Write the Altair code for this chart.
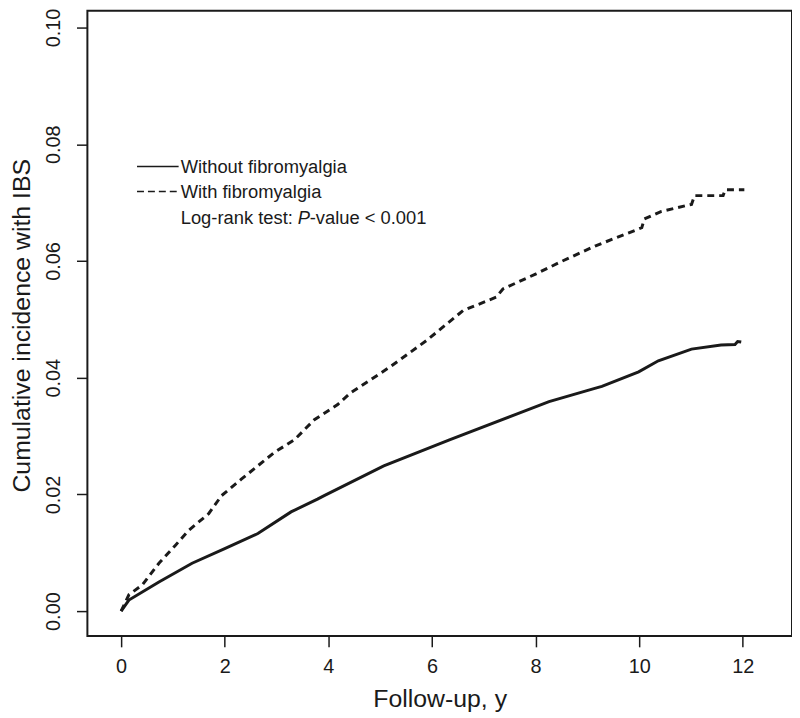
import altair as alt
import pandas as pd

# Without fibromyalgia (solid)
x_without = [0, 0.15, 0.73, 1.37, 2.0, 2.64, 3.28, 3.79, 3.92, 5.07, 6.35, 7.62, 8.26,
             9.16, 9.28, 9.99, 10.37, 11.01, 11.58, 11.85, 11.9, 11.97]
y_without = [0, 0.0019, 0.0050, 0.0082, 0.0107, 0.0133, 0.0170, 0.0192, 0.0198, 0.0249,
             0.0294, 0.0337, 0.0359, 0.0382, 0.0385, 0.0410, 0.0429, 0.0449, 0.0456,
             0.0457, 0.0462, 0.0461]

# With fibromyalgia (dashed)
x_with = [0, 0.15, 0.41, 0.73, 1.05, 1.30, 1.69, 1.94, 2.32, 2.64, 2.96, 3.35, 3.73, 4.18,
          4.43, 5.20, 5.90, 6.60, 7.24, 7.37, 8.01, 8.52, 9.16, 10.05, 10.10, 10.43,
          11.01, 11.07, 11.62, 11.66, 12.03]
y_with = [0, 0.0028, 0.0045, 0.0082, 0.0113, 0.0138, 0.0167, 0.0198, 0.0226, 0.0249,
          0.0272, 0.0294, 0.0328, 0.0354, 0.0374, 0.0419, 0.0464, 0.0515, 0.0538,
          0.0552, 0.0578, 0.0600, 0.0626, 0.0657, 0.0672, 0.0685, 0.0697, 0.0712,
          0.0712, 0.0722, 0.0722]

x_ticks = [0, 2, 4, 6, 8, 10, 12]
y_ticks = [0.00, 0.02, 0.04, 0.06, 0.08, 0.10]

legend_labels = ["Without fibromyalgia", "With fibromyalgia"]
legend_y_line = [0.0762, 0.0719]
legend_y_text = [0.0751, 0.0708]
legend_x_start = 0.307
legend_x_end = 1.11
legend_x_text = 1.15
logrank_y = 0.0663

FONT = "Liberation Sans"
INK = "#1a1a1a"

df_wo = pd.DataFrame({"x": x_without, "y": y_without})
df_w = pd.DataFrame({"x": x_with, "y": y_with})

xs = alt.Scale(domain=[-0.651, 12.95], nice=False, zero=False)
ys = alt.Scale(domain=[-0.00425, 0.10289], nice=False, zero=False)

xaxis = alt.Axis(values=x_ticks, title="Follow-up, y", grid=False, domain=False,
                 tickSize=11, tickWidth=1.5, tickColor=INK, labelFontSize=20,
                 labelFont=FONT, labelColor=INK, labelPadding=10,
                 titleFontSize=25, titleFont=FONT, titleFontWeight="normal",
                 titleColor=INK, titleBaseline="alphabetic", titleY=71)
yaxis = alt.Axis(values=y_ticks, format=".2f", title="Cumulative incidence with IBS",
                 grid=False, domain=False, tickSize=11, tickWidth=1.5, tickColor=INK,
                 labelFontSize=20, labelFont=FONT, labelColor=INK, labelAngle=270,
                 labelAlign="center", labelBaseline="alphabetic", labelPadding=17,
                 titleFontSize=25, titleFont=FONT, titleFontWeight="normal",
                 titleColor=INK, titleAngle=270, titleAlign="center",
                 titleBaseline="alphabetic", titleX=-58, titleY=317)

line_wo = alt.Chart(df_wo).mark_line(color=INK, strokeWidth=3).encode(
    x=alt.X("x:Q", scale=xs, axis=xaxis),
    y=alt.Y("y:Q", scale=ys, axis=yaxis),
    order="x:Q",
)
line_w = alt.Chart(df_w).mark_line(color=INK, strokeWidth=3, strokeDash=[7, 5]).encode(
    x=alt.X("x:Q", scale=xs),
    y=alt.Y("y:Q", scale=ys),
    order="x:Q",
)

leg = pd.DataFrame({
    "label": legend_labels,
    "yl": legend_y_line,
    "yt": legend_y_text,
    "x1": [legend_x_start] * 2,
    "x2": [legend_x_end] * 2,
    "xt": [legend_x_text] * 2,
})

leg_solid = alt.Chart(leg.iloc[[0]]).mark_rule(color=INK, strokeWidth=1.5).encode(
    x=alt.X("x1:Q", scale=xs), x2="x2:Q", y=alt.Y("yl:Q", scale=ys))
leg_dash = alt.Chart(leg.iloc[[1]]).mark_rule(color=INK, strokeWidth=1.5,
                                               strokeDash=[7, 4]).encode(
    x=alt.X("x1:Q", scale=xs), x2="x2:Q", y=alt.Y("yl:Q", scale=ys))
leg_text = alt.Chart(leg).mark_text(align="left", baseline="alphabetic", fontSize=18.5,
                                    font=FONT, color=INK).encode(
    x=alt.X("xt:Q", scale=xs), y=alt.Y("yt:Q", scale=ys), text="label:N")

lr = pd.DataFrame({"x": [legend_x_text], "y": [logrank_y]})
lr1 = alt.Chart(lr).mark_text(align="left", baseline="alphabetic", fontSize=18.5,
                              font=FONT, color=INK, text="Log-rank test:").encode(
    x=alt.X("x:Q", scale=xs), y=alt.Y("y:Q", scale=ys))
lr2 = alt.Chart(lr).mark_text(align="left", baseline="alphabetic", fontSize=18.5,
                              font=FONT, color=INK, fontStyle="italic", text="P",
                              dx=118).encode(
    x=alt.X("x:Q", scale=xs), y=alt.Y("y:Q", scale=ys))
lr3 = alt.Chart(lr).mark_text(align="left", baseline="alphabetic", fontSize=18.5,
                              font=FONT, color=INK, text="-value < 0.001",
                              dx=130).encode(
    x=alt.X("x:Q", scale=xs), y=alt.Y("y:Q", scale=ys))

chart = alt.layer(line_wo, line_w, leg_solid, leg_dash, leg_text, lr1, lr2, lr3).properties(
    width=710, height=630,
    background="white",
    autosize=alt.AutoSizeParams(type="none"),
    padding={"left": 80, "top": 0, "right": 0, "bottom": 80},
).configure_view(stroke=INK, strokeWidth=2)

chart.save("out.html", embed_options={"renderer": "svg", "actions": False})
